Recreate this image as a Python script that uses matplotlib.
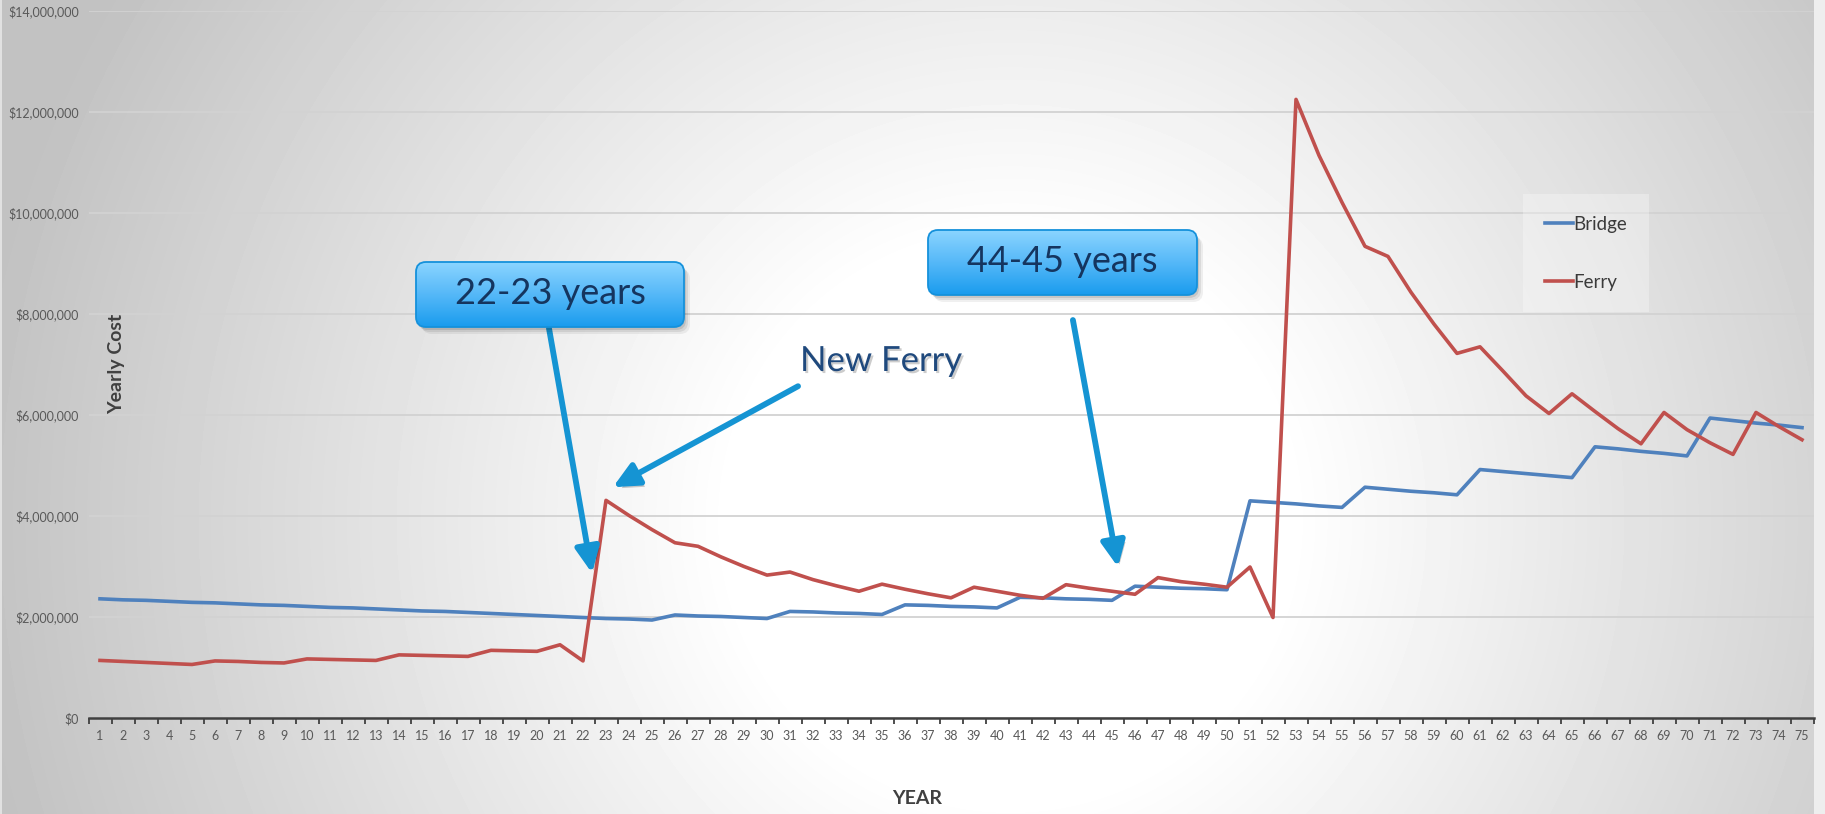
import numpy as np
import matplotlib.pyplot as plt
import matplotlib.patheffects as pe
from matplotlib.patches import FancyBboxPatch
from matplotlib.colors import LinearSegmentedColormap
from matplotlib.ticker import FuncFormatter, FixedLocator

plt.rcParams['font.family'] = ['Lato', 'DejaVu Sans']

# yearly cost in $ millions
years = list(range(1, 76))
bridge_m = [
    2.36, 2.34, 2.33, 2.31, 2.29, 2.28, 2.26, 2.24, 2.23, 2.21,
    2.19, 2.18, 2.16, 2.14, 2.12, 2.11, 2.09, 2.07, 2.05, 2.03,
    2.01, 1.99, 1.97, 1.96, 1.94, 2.04, 2.02, 2.01, 1.99, 1.97,
    2.11, 2.10, 2.08, 2.07, 2.05, 2.24, 2.23, 2.21, 2.20, 2.18,
    2.39, 2.38, 2.36, 2.35, 2.33, 2.61, 2.59, 2.57, 2.56, 2.54,
    4.30, 4.27, 4.24, 4.20, 4.17, 4.57, 4.53, 4.49, 4.46, 4.42,
    4.92, 4.88, 4.84, 4.80, 4.76, 5.37, 5.33, 5.28, 5.24, 5.19,
    5.94, 5.89, 5.84, 5.80, 5.75,
]
ferry_m = [
    1.14, 1.12, 1.10, 1.08, 1.06, 1.13, 1.12, 1.10, 1.09, 1.17,
    1.16, 1.15, 1.14, 1.25, 1.24, 1.23, 1.22, 1.34, 1.33, 1.32,
    1.45, 1.13, 4.31, 4.01, 3.73, 3.47, 3.40, 3.19, 3.00, 2.83,
    2.89, 2.74, 2.62, 2.51, 2.65, 2.55, 2.46, 2.38, 2.59, 2.51,
    2.43, 2.37, 2.64, 2.57, 2.51, 2.45, 2.78, 2.70, 2.65, 2.59,
    2.99, 1.99, 12.25, 11.14, 10.21, 9.34, 9.14, 8.43, 7.80, 7.22,
    7.35, 6.87, 6.38, 6.03, 6.42, 6.07, 5.73, 5.43, 6.05, 5.71,
    5.45, 5.22, 6.05, 5.77, 5.51,
]
y_ticks = [0, 2e6, 4e6, 6e6, 8e6, 10e6, 12e6, 14e6]

# arrows: (start year, start $M) -> (tip year, tip $M)
arrows = [
    ((20.52, 7.72), (22.39, 2.87)),
    ((31.35, 6.57), (23.30, 4.57)),
    ((43.30, 7.88), (45.26, 2.99)),
]

W, H = 1825, 814
fig = plt.figure(figsize=(W / 100, H / 100), dpi=100)

# radial grey background
bg = fig.add_axes([0, 0, 1, 1], zorder=-2)
yy, xx = np.mgrid[0:H, 0:W]
d = np.hypot(xx - 1010, yy - 520)
shade = 1 - 0.24 * np.clip((d - 280) / 760, 0, 1)
shade[:, 1814:] = 0.93
shade[:, :2] = 0.88
bg.imshow(shade, cmap='gray', vmin=0, vmax=1, extent=(0, W, H, 0),
          aspect='auto', interpolation='bilinear')
bg.set_xlim(0, W)
bg.set_ylim(H, 0)
bg.axis('off')

# main chart
ax = fig.add_axes([88.5 / W, (H - 718) / H, 1725 / W, 707 / H])
ax.patch.set_alpha(0)
ax.plot(years, [v * 1e6 for v in bridge_m], color='#4f81bd', lw=2.6,
        label='Bridge', solid_joinstyle='round', zorder=3)
ax.plot(years, [v * 1e6 for v in ferry_m], color='#c0504d', lw=2.6,
        label='Ferry', solid_joinstyle='round', zorder=3)

ax.set_xlim(0.5, 75.5)
ax.set_ylim(0, 14e6)
ax.set_yticks(y_ticks)
ax.yaxis.set_major_formatter(FuncFormatter(lambda v, p: f'${v:,.0f}'))
ax.tick_params(axis='y', length=0, pad=7, labelsize=9, labelcolor='#595959')
ax.grid(axis='y', color='#d2d2d2', lw=1.3)
ax.set_axisbelow(True)

ax.xaxis.set_major_locator(FixedLocator(np.arange(0.5, 76, 1)))
ax.xaxis.set_minor_locator(FixedLocator(years))
ax.set_xticklabels([])
ax.set_xticklabels([str(y) for y in years], minor=True)
ax.tick_params(axis='x', which='major', length=4, width=1.3,
               color='#404040', direction='out')
ax.tick_params(axis='x', which='minor', length=0, pad=9, labelsize=9,
               labelcolor='#595959')
for s in ['top', 'right', 'left']:
    ax.spines[s].set_visible(False)
ax.spines['bottom'].set_color('#404040')
ax.spines['bottom'].set_linewidth(1.8)

fig.text(917 / W, 1 - 799 / H, 'YEAR', fontsize=14, fontweight='bold',
         color='#404040', ha='center', va='center')
fig.text(117 / W, 1 - 364 / H, 'Yearly Cost', fontsize=14, fontweight='bold',
         color='#404040', ha='center', va='center', rotation=90)

leg = ax.legend(loc='upper left',
                bbox_to_anchor=((1523 - 88.5) / 1725, (718 - 194) / 707),
                fontsize=13.5, handlelength=1.5, handletextpad=0.05,
                labelspacing=2.2, borderpad=1.15, borderaxespad=0,
                fancybox=False)
leg.get_frame().set_facecolor('white')
leg.get_frame().set_alpha(0.3)
leg.get_frame().set_edgecolor('none')
for t in leg.get_texts():
    t.set_color('#3a3a3a')

# arrows
for (sx, sy), (tx, ty) in arrows:
    ax.annotate('', xy=(tx, ty * 1e6), xytext=(sx, sy * 1e6),
                arrowprops=dict(arrowstyle='-|>,head_length=0.95,head_width=0.45',
                                color='#1594d3', lw=4.2, shrinkA=0, shrinkB=0,
                                mutation_scale=16,
                                path_effects=[pe.withSimplePatchShadow(
                                    offset=(2, -3), shadow_rgbFace='k', alpha=0.2)]),
                zorder=4)

# callout boxes drawn in pixel space
ov = fig.add_axes([0, 0, 1, 1], zorder=5)
ov.set_xlim(0, W)
ov.set_ylim(H, 0)
ov.axis('off')
box_cmap = LinearSegmentedColormap.from_list('cb', ['#8ad4ff', '#55b8f8', '#1a9cee'])


def callout(x0, y0, x1, y1, label):
    for k, a in [(6, 0.06), (4, 0.08), (2, 0.1)]:
        ov.add_patch(FancyBboxPatch((x0 + k, y0 + k + 1), x1 - x0, y1 - y0,
                                    boxstyle='round,pad=0,rounding_size=10',
                                    fc='k', ec='none', alpha=a))
    box = FancyBboxPatch((x0, y0), x1 - x0, y1 - y0,
                         boxstyle='round,pad=0,rounding_size=10',
                         fc='none', ec='#1591db', lw=1.3, zorder=3)
    ov.add_patch(box)
    im = ov.imshow(np.linspace(0, 1, 64)[:, None], cmap=box_cmap,
                   extent=(x0, x1, y1, y0), aspect='auto', zorder=2)
    im.set_clip_path(box)
    ov.text((x0 + x1) / 2, (y0 + y1) / 2 - 1, label, fontsize=26,
            color='#15355f', ha='center', va='center', zorder=4)


callout(416, 262, 684, 327, '22-23 years')
callout(928, 230, 1197, 295, '44-45 years')
ov.text(800, 361, 'New Ferry', fontsize=25, color='#1f497d', ha='left',
        va='center', path_effects=[pe.withSimplePatchShadow(
            offset=(1.5, -1.5), shadow_rgbFace='k', alpha=0.2)])
ov.set_xlim(0, W)
ov.set_ylim(H, 0)

fig.savefig('out.png', dpi=100)
